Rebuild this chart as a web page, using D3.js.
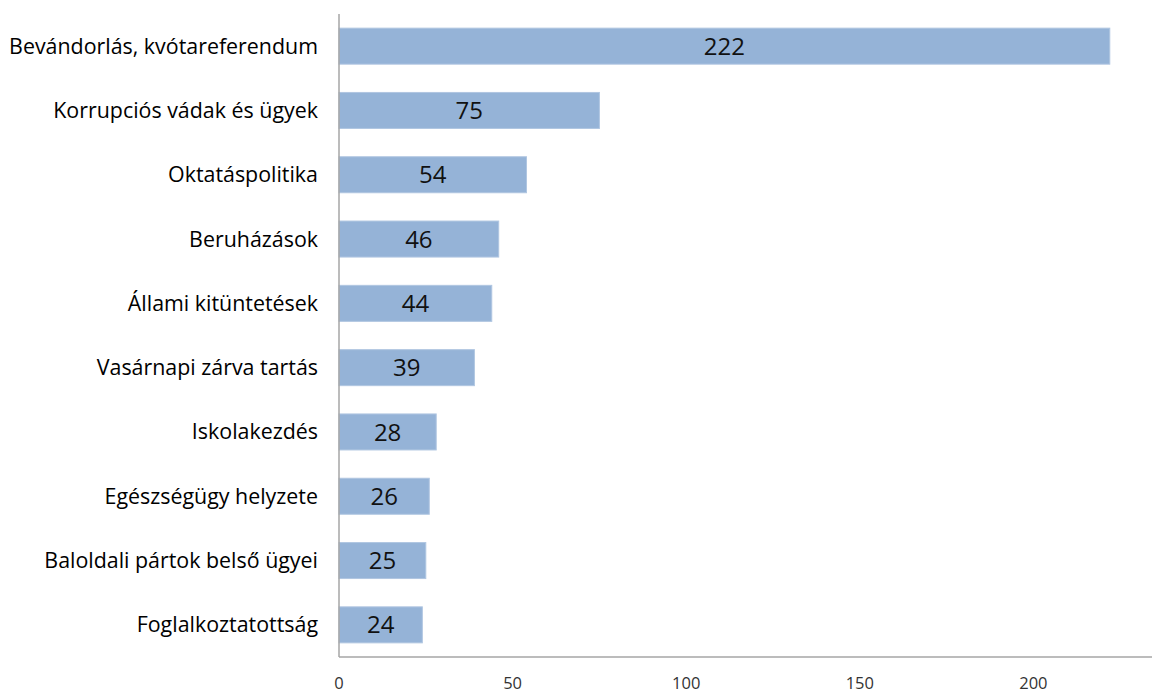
<!DOCTYPE html>
<html>
<head>
<meta charset="utf-8">
<script src="https://cdn.jsdelivr.net/npm/d3@7"></script>
<style>
    html, body { margin: 0; padding: 0; background: #fff; }
    svg { display: block; }
</style>
</head>
<body>
<script>
const fontFamily = "\"Open Sans\", \"DejaVu Sans\", sans-serif";

const categories = [
    "Bevándorlás, kvótareferendum",
    "Korrupciós vádak és ügyek",
    "Oktatáspolitika",
    "Beruházások",
    "Állami kitüntetések",
    "Vasárnapi zárva tartás",
    "Iskolakezdés",
    "Egészségügy helyzete",
    "Baloldali pártok belső ügyei",
    "Foglalkoztatottság"
];
const values = [222, 75, 54, 46, 44, 39, 28, 26, 25, 24];
const tickValues = [0, 50, 100, 150, 200];

const width = 1152;
const height = 694;
const margin = { top: 14, right: 0, bottom: 37, left: 339 };

const svg = d3.select("body").append("svg")
    .attr("width", width)
    .attr("height", height);

// 250 would fall past the right edge, the picture is cut there
const x = d3.scaleLinear()
    .domain([0, 50])
    .range([margin.left, margin.left + 173.6]);

const y = d3.scaleBand()
    .domain(categories)
    .range([margin.top, height - margin.bottom])
    .paddingInner(0.44)
    .paddingOuter(0.22);

svg.append("g")
    .classed("bars", true)
    .selectAll("rect")
    .data(values)
    .enter()
    .append("rect")
    .attr("x", x(0))
    .attr("y", (d, i) => y(categories[i]))
    .attr("width", d => x(d) - x(0))
    .attr("height", y.bandwidth())
    .attr("fill", "#95b3d7")
    .attr("stroke", "#b0c6e1")
    .attr("stroke-width", 1);

svg.append("g")
    .classed("values", true)
    .selectAll("text")
    .data(values)
    .enter()
    .append("text")
    .attr("x", d => (x(0) + x(d)) / 2)
    .attr("y", (d, i) => y(categories[i]) + y.bandwidth() / 2)
    .attr("dy", "0.36em")
    .attr("text-anchor", "middle")
    .attr("font-family", fontFamily)
    .attr("font-size", 24)
    .attr("fill", "#111")
    .text(d => d);

// category labels
svg.append("g")
    .classed("labels", true)
    .selectAll("text")
    .data(categories)
    .enter()
    .append("text")
    .attr("x", 318)
    .attr("y", d => y(d) + y.bandwidth() / 2)
    .attr("dy", "0.35em")
    .attr("text-anchor", "end")
    .attr("font-family", fontFamily)
    .attr("font-size", 21.4)
    .attr("fill", "#000")
    .text(d => d);

// axis lines
const axisY = height - margin.bottom;
svg.append("line")
    .attr("x1", x(0)).attr("x2", x(0))
    .attr("y1", margin.top).attr("y2", axisY)
    .attr("stroke", "#a6a6a6")
    .attr("stroke-width", 1.5);

svg.append("line")
    .attr("x1", x(0)).attr("x2", width)
    .attr("y1", axisY).attr("y2", axisY)
    .attr("stroke", "#a6a6a6")
    .attr("stroke-width", 1.5);

svg.append("g")
    .classed("ticks", true)
    .selectAll("text")
    .data(tickValues)
    .enter()
    .append("text")
    .attr("x", d => x(d))
    .attr("y", 683)
    .attr("dy", "0.35em")
    .attr("text-anchor", "middle")
    .attr("font-family", fontFamily)
    .attr("font-size", 16.5)
    .attr("fill", "#333")
    .text(d => d);
</script>
</body>
</html>
